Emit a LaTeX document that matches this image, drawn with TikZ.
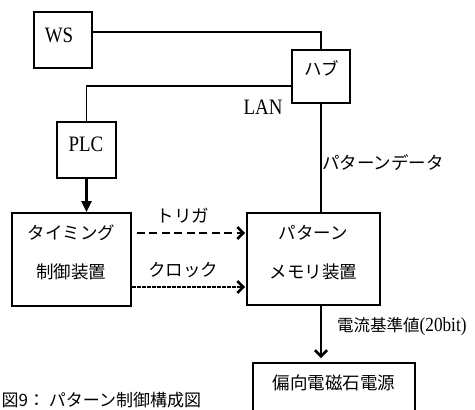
\documentclass[tikz,border=0pt]{standalone}
\usepackage{fontspec}
\setmainfont{Liberation Serif}
\newfontfamily\latn[FakeStretch=0.86]{Liberation Serif}
\newfontfamily\cjk{Noto Sans CJK JP}
\usetikzlibrary{arrows.meta}
\begin{document}
\begin{tikzpicture}[x=1pt,y=-1pt,
  box/.style={draw,line width=1.8pt,inner sep=0pt,rectangle},
  conn/.style={line width=1.5pt},
  jtxt/.style={inner sep=0pt,font=\cjk\fontsize{17.5}{19}\selectfont},
  ltxt/.style={inner sep=0pt,font=\latn\fontsize{22}{24}\selectfont},
  bigarrow/.style={line width=2.8pt,-{Straight Barb[length=6pt,width=12pt,line width=2.6pt]}}]
\useasboundingbox (0,0) rectangle (475,410);
% boxes
\node[box,minimum width=58pt,minimum height=56pt] (ws) at (63,40) {};
\node[box,minimum width=58pt,minimum height=53pt] (hub) at (321,76.5) {};
\node[box,minimum width=59pt,minimum height=56pt] (plc) at (86.5,150) {};
\node[box,minimum width=119pt,minimum height=93pt] (timing) at (71.5,259.5) {};
\node[box,minimum width=133pt,minimum height=92pt] (pattern) at (313.5,259) {};
\node[box,minimum width=162pt,minimum height=66pt,anchor=north] (defl) at (334,362) {};
% box texts
\node[ltxt] (wst) at (59,35) {WS};
\node[jtxt] (hubt) at (321.5,68.5) {ハブ};
\node[ltxt] (plct) at (86,144) {PLC};
\node[jtxt] (tim1) at (71.5,233) {タイミング};
\node[jtxt] (tim2) at (71.5,272) {制御装置};
\node[jtxt] (pat1) at (313.5,233) {パターン};
\node[jtxt] (pat2) at (313.5,272) {メモリ装置};
\node[jtxt] (deflt) at (334,383) {偏向電磁石電源};
% helper coordinates
\coordinate (wsy) at (0,32);
\coordinate (lany) at (0,86);
\coordinate (trigy) at (0,233);
\coordinate (clky) at (0,287);
% connectors
\draw[conn] (ws.east |- wsy) -| (hub.north);
\draw[conn] (hub.west |- lany) -| (plc.north);
\draw[conn] (hub.south) -- (hub.south |- pattern.north);
\draw[line width=2.2pt,-{Triangle[length=11pt,width=10pt]}] (plc.south) -- (plc.south |- timing.north);
\draw[bigarrow,dash pattern=on 8pt off 4.5pt] ([xshift=5pt]timing.east |- trigy) -- ([xshift=-1pt]pattern.west |- trigy);
\draw[bigarrow,dash pattern=on 1.6pt off 0.9pt] (timing.east |- clky) -- ([xshift=-1pt]pattern.west |- clky);
\draw[bigarrow,shorten >=4pt] (hub.south |- pattern.south) -- (hub.south |- defl.north);
% labels
\node[ltxt] (lan) at (263,107) {LAN};
\node[jtxt,anchor=west] (pdata) at (322,163) {パターンデータ};
\node[jtxt] (trig) at (183,216) {トリガ};
\node[jtxt] (clk) at (183,270) {クロック};
\node[jtxt,anchor=west,font=\cjk\fontsize{16.5}{18}\selectfont] (cur) at (337,327) {電流基準値{\latn\fontsize{20}{22}\selectfont (20bit)}};
\node[jtxt,anchor=west,font=\cjk\fontsize{17}{19}\selectfont] (cap) at (1.5,400) {図9： パターン制御構成図};
\end{tikzpicture}
\end{document}
